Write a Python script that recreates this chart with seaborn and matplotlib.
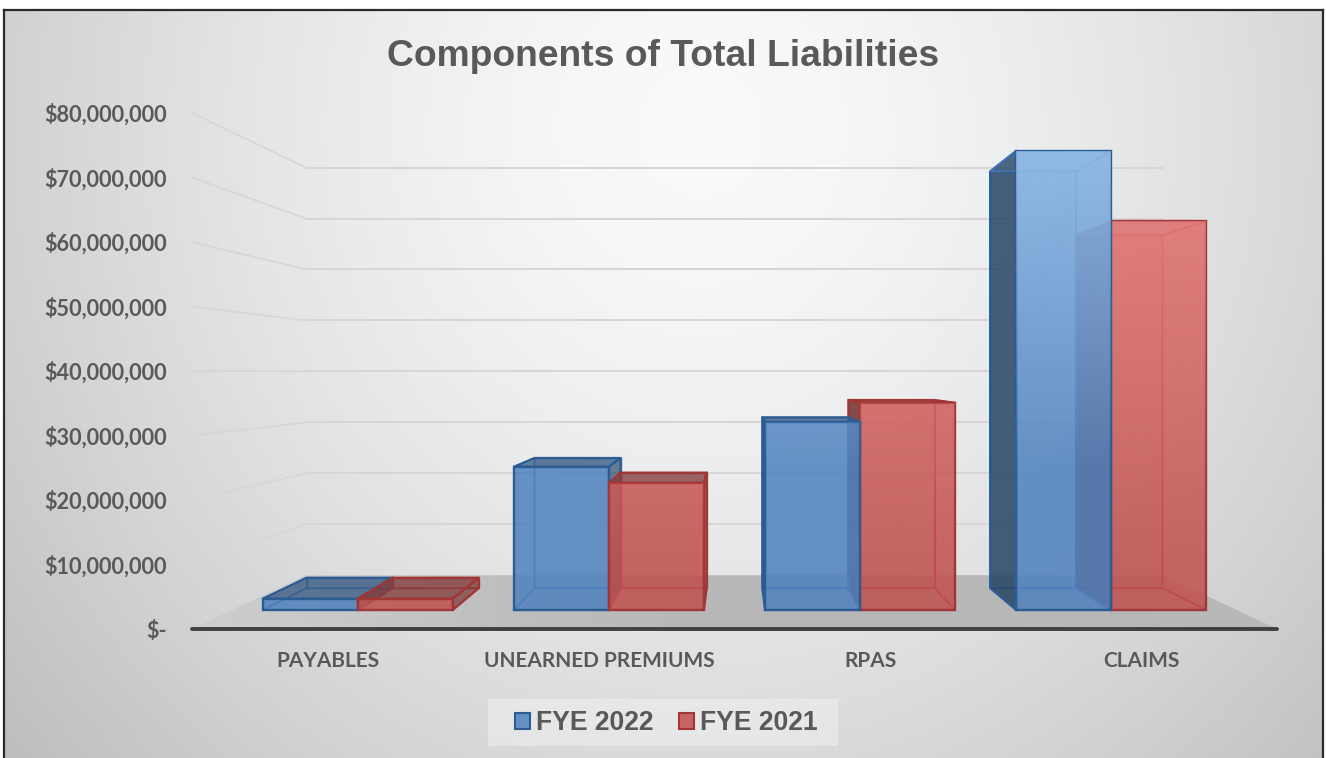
import numpy as np
import pandas as pd
import seaborn as sns
import matplotlib
matplotlib.use("Agg")
import matplotlib.pyplot as plt
from matplotlib.patches import Polygon, Patch, Rectangle

categories = ["PAYABLES", "UNEARNED PREMIUMS", "RPAS", "CLAIMS"]
fye_2022 = [1.9e6, 24.0e6, 31.5e6, 76.9e6]
fye_2021 = [1.9e6, 21.3e6, 34.7e6, 65.1e6]
series_names = ["FYE 2022", "FYE 2021"]
y_ticks = [0, 10e6, 20e6, 30e6, 40e6, 50e6, 60e6, 70e6, 80e6]
y_tick_labels = ["$-", "$10,000,000", "$20,000,000", "$30,000,000", "$40,000,000",
                 "$50,000,000", "$60,000,000", "$70,000,000", "$80,000,000"]
title = "Components of Total Liabilities"

W, H = 1326, 758
BLUE, RED = "#4F81BD", "#C0504D"
DARK = {BLUE: "#2C5C94", RED: "#A23535"}
INNER = {BLUE: "#3F78BE", RED: "#B84444"}
SHADE = {BLUE: "#22405F", RED: "#6E2A2A"}
TOPC = {BLUE: "#36587F", RED: "#7E3A38"}
LIGHT = {BLUE: "#AAD2FA", RED: "#F59393"}
RAMP_START = {BLUE: 0.30, RED: 0.12}
RAMP_TOP = {BLUE: 0.62, RED: 0.66}
GREY = "#595959"

sns.set_theme(style="white")
plt.rcParams["font.family"] = ["Liberation Sans", "DejaVu Sans"]

fig = plt.figure(figsize=(W / 100, H / 100), dpi=100, facecolor="white")

# card background with a soft radial gradient
bg = fig.add_axes([4 / W, 0, 1319 / W, 748 / H], zorder=0)
yy, xx = np.mgrid[0:748, 0:1319]
d = np.sqrt(((xx + 4 - 700) / 800.0) ** 2 + ((yy + 10 - 130) / 850.0) ** 2)
lev = 250 - 50 * np.clip(d, 0, 1.2) ** 1.5
rgb = np.dstack([lev - 1, lev, lev + 1]) / 255.0
bg.imshow(np.clip(rgb, 0, 1), aspect="auto", interpolation="bilinear")
bg.set_xticks([]); bg.set_yticks([])
for name, s in bg.spines.items():
    s.set_color("#2b2b2b"); s.set_linewidth(1.6)
    s.set_visible(name != "bottom")

# front wall axes: the value and category scales of the chart
ax = fig.add_axes([192 / W, (H - 629) / H, 1085 / W, 516 / H], zorder=1)
ax.patch.set_alpha(0)

df = pd.DataFrame({
    "category": categories * 2,
    "value": fye_2022 + fye_2021,
    "series": [series_names[0]] * 4 + [series_names[1]] * 4,
})
sns.barplot(data=df, x="category", y="value", hue="series", palette=[BLUE, RED],
            saturation=1, width=0.756, gap=0, legend=False, ax=ax, errorbar=None)
ax.set_xlim(-0.5, 3.5)
ax.set_ylim(0, 80e6)
ax.set_xlabel(""); ax.set_ylabel("")

# perspective: everything is pulled to a vanishing point as depth grows
VX, VY = 1.5, 39.7e6
S_WALL, S_FRONT, S_BACK = 0.79, 0.926, 0.84


def proj(x, y, s):
    return VX + s * (x - VX), VY + s * (y - VY)


x_lo, x_hi = ax.get_xlim()

# back wall and side wall gridlines
side_start = {10e6: 0.65, 20e6: 0.30, 30e6: 0.05}
for v in y_ticks[1:]:
    x1, y1 = proj(x_lo, v, S_WALL)
    x2, y2 = proj(x_hi, v, S_WALL)
    ax.plot([x1, x2], [y1, y2], color="#D6D6D6", lw=1.4, zorder=1, clip_on=False)
    t = side_start.get(v, 0.0)
    ax.plot([x_lo + t * (x1 - x_lo), x1], [v + t * (y1 - v), y1],
            color="#D6D6D6", lw=1.2, zorder=1, clip_on=False)

# floor
floor_pts = [(x_lo, 0), (x_hi, 0), proj(x_hi, 0, S_WALL), proj(x_lo, 0, S_WALL)]
floor = Polygon(floor_pts, closed=True, transform=ax.transData, fc="none", ec="none")
ax.add_patch(floor)
fl_levels = np.array([[0.80, 0.75, 0.72, 0.715, 0.715, 0.72]])
fl_img = ax.imshow(fl_levels, cmap="gray", vmin=0, vmax=1, aspect="auto",
                   extent=(x_lo, x_hi, floor_pts[0][1], floor_pts[2][1]),
                   interpolation="bicubic", zorder=1.5)
fl_img.set_clip_path(floor)
ax.set_xlim(x_lo, x_hi)
ax.set_ylim(0, 80e6)

# bars, from the seaborn rectangles; outermost ones are painted first
rects = [p for p in ax.patches if isinstance(p, plt.Rectangle) and p.get_width() > 0]
colors = [BLUE] * 4 + [RED] * 4
order = sorted(range(len(rects)),
               key=lambda i: -abs(rects[i].get_x() + rects[i].get_width() / 2 - VX))


def face(pts, color, alpha, edge, lw, z):
    ax.add_patch(Polygon(pts, closed=True, fc=matplotlib.colors.to_rgba(color, alpha),
                         ec=edge, lw=lw, zorder=z, clip_on=False, joinstyle="round"))


z = 2.0
for i in order:
    r = rects[i]
    c = colors[i]
    x0, x1 = r.get_x(), r.get_x() + r.get_width()
    v = r.get_height()
    f00, f10 = proj(x0, 0, S_FRONT), proj(x1, 0, S_FRONT)
    f01, f11 = proj(x0, v, S_FRONT), proj(x1, v, S_FRONT)
    b00, b10 = proj(x0, 0, S_BACK), proj(x1, 0, S_BACK)
    b01, b11 = proj(x0, v, S_BACK), proj(x1, v, S_BACK)
    dark, inner, shade = DARK[c], INNER[c], SHADE[c]

    # back and floor of the box
    face([b00, b10, b11, b01], c, 0.22, inner, 1.0, z); z += .01
    face([f00, f10, b10, b00], c, 0.14, inner, 1.0, z); z += .01

    # sides
    left_out = b00[0] < f00[0]
    right_out = b10[0] > f10[0]
    top_out = b01[1] > f01[1]
    if left_out:
        face([f00, f01, b01, b00], shade, 0.80, dark, 1.6, z)
    else:
        face([f00, f01, b01, b00], c, 0.16, inner, 1.0, z)
    z += .01
    if right_out:
        face([f10, f11, b11, b10], shade, 0.60, dark, 1.6, z)
    else:
        face([f10, f11, b11, b10], c, 0.16, inner, 1.0, z)
    z += .01
    if top_out:
        face([f01, f11, b11, b01], TOPC[c], 0.72, dark, 1.6, z)
    else:
        face([f01, f11, b11, b01], c, 0.12, inner, 1.0, z)
    z += .01

    # front face: the seaborn bar itself
    r.set_bounds(f00[0], f00[1], f10[0] - f00[0], f01[1] - f00[1])
    r.set_facecolor(matplotlib.colors.to_rgba(c, 0.82))
    r.set_edgecolor(dark)
    r.set_linewidth(1.7)
    r.set_zorder(z); z += .01

    # lighter tone towards the top of the plot
    lift_rgba = np.ones((256, 1, 4))
    lift_rgba[:, 0, :3] = matplotlib.colors.to_rgb(LIGHT[c])
    lift_rgba[:, 0, 3] = RAMP_TOP[c] * np.clip(
        (np.linspace(0, 1, 256) - RAMP_START[c]) / (0.92 - RAMP_START[c]), 0, 1)
    im = ax.imshow(lift_rgba, aspect="auto", origin="lower", extent=(x_lo, x_hi, 0, 80e6),
                   zorder=z, interpolation="bilinear")
    im.set_clip_path(Polygon([f00, f10, f11, f01], closed=True, transform=ax.transData))
    z += .01
ax.set_xlim(x_lo, x_hi)
ax.set_ylim(0, 80e6)

# axes
ax.set_yticks(y_ticks)
ax.set_yticklabels(y_tick_labels, family=["Lato", "DejaVu Sans"], fontweight="bold",
                   fontsize=15.6, color=GREY)
ax.set_xticks(range(len(categories)))
ax.set_xticklabels(categories, family=["Lato", "DejaVu Sans"], fontweight="bold",
                   fontsize=15, color=GREY)
ax.tick_params(axis="y", length=0, pad=18)
ax.tick_params(axis="x", length=0, pad=16)
ax.grid(False)
for name in ["left", "right", "top"]:
    ax.spines[name].set_visible(False)
ax.spines["bottom"].set_color("#404040")
ax.spines["bottom"].set_linewidth(2.8)
ax.spines["bottom"].set_capstyle("round")
ax.spines["bottom"].set_zorder(20)

fig.text(663 / W, 1 - 56 / H, title, ha="center", va="center", fontsize=26.8,
         fontweight="bold", color=GREY)

# legend panel and legend
fig.add_artist(Rectangle((488 / W, (H - 746) / H), 350 / W, 47 / H, transform=fig.transFigure,
                         fc=(1, 1, 1, 0.32), ec="none", zorder=0.5))
handles = [Patch(facecolor=matplotlib.colors.to_rgba(BLUE, 0.85), edgecolor=DARK[BLUE], lw=1.5),
           Patch(facecolor=matplotlib.colors.to_rgba(RED, 0.85), edgecolor=DARK[RED], lw=1.5)]
leg = ax.legend(handles, series_names, loc="center", ncol=2, frameon=False,
                bbox_to_anchor=(666.5 / W, (H - 723.5) / H), bbox_transform=fig.transFigure,
                prop={"family": ["Liberation Sans"], "weight": "bold", "size": 19.1},
                labelcolor=GREY, handlelength=0.55, handleheight=0.55,
                handletextpad=0.25, columnspacing=0.95, borderpad=0)
leg.set_zorder(30)

fig.savefig("out.png", dpi=100, facecolor="white")
